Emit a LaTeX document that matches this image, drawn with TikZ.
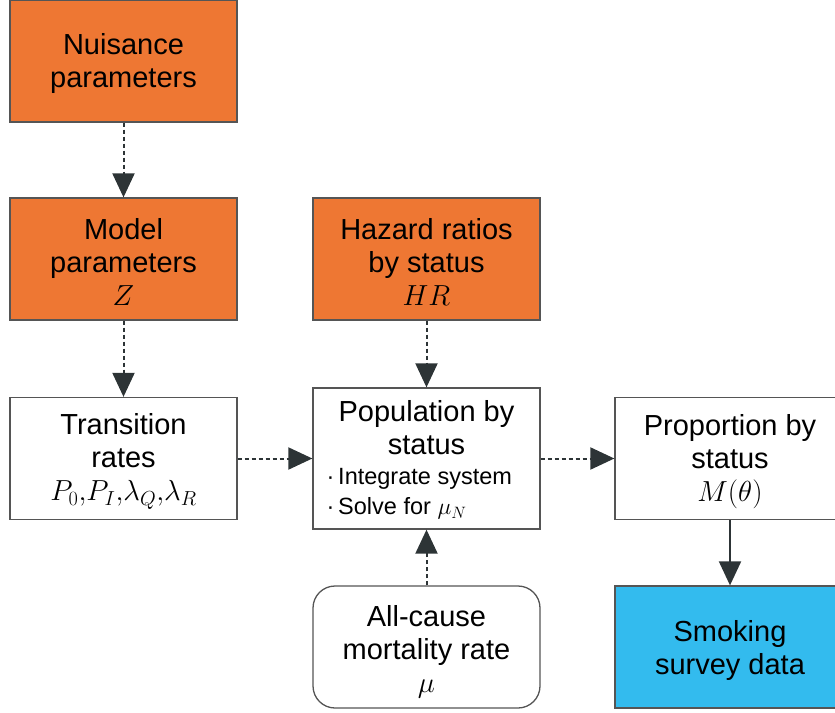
\RequirePackage{fix-cm}
\documentclass[tikz,border=0pt]{standalone}
\usepackage{fontspec}
\setmainfont{Liberation Sans}
\usetikzlibrary{arrows.meta}
\definecolor{orng}{HTML}{EE7733}
\definecolor{skyb}{HTML}{33BBEE}
\definecolor{edgegray}{HTML}{555555}
\definecolor{arrgray}{HTML}{2D3436}
\newcommand\btext[2][3pt]{\raisebox{-#1}[\height][\depth]{\parbox{220pt}{\centering #2}}}
\begin{document}
\begin{tikzpicture}[x=1pt,y=-1pt,
  box/.style={draw=edgegray, line width=1.3pt, minimum width=227pt, minimum height=122pt,
    align=center, inner sep=0pt, font=\fontsize{29}{33}\selectfont},
  orangebox/.style={box, fill=orng},
  whitebox/.style={box, fill=white},
  bluebox/.style={box, fill=skyb},
  dotarrow/.style={draw=arrgray, line width=2pt, dash pattern=on 4pt off 3pt,
    -{Triangle[width=22pt,length=24pt]}},
  solidarrow/.style={draw=arrgray, line width=2pt, -{Triangle[width=22pt,length=24pt]}}
]
\useasboundingbox (0,0) rectangle (835,712);

\node[orangebox] (nuis) at (123.5,61) {\btext{Nuisance\\parameters}};
\node[orangebox] (model) at (123.5,259) {\btext{Model\\parameters\\$Z$}};
\node[orangebox] (hazard) at (426.5,259) {\btext{Hazard ratios\\by status\\$HR$}};
\node[whitebox] (trans) at (123.5,458.5) {\btext{Transition\\rates\\$P_0{,}P_I{,}\lambda_Q{,}\lambda_R$}};
\node[whitebox, minimum height=141pt] (pop) at (426.5,458.5)
  {\raisebox{-1.5pt}[\height][\depth]{\parbox{200pt}{\centering Population by\\status\par
   \raggedright\fontsize{23.5}{30}\selectfont ·\,Integrate system\\·\,Solve for $\mu_N$}}};
\node[whitebox, minimum width=230pt] (prop) at (730,458.5) {\btext{Proportion by\\status\\$M(\theta)$}};
\node[whitebox, rounded corners=22pt] (mort) at (426.5,647) {\btext[5pt]{All-cause\\mortality rate\\$\mu$}};
\node[bluebox, minimum width=230pt] (smoke) at (730,647) {\btext{Smoking\\survey data}};

\draw[dotarrow] (nuis) -- (model);
\draw[dotarrow] (model) -- (trans);
\draw[dotarrow] (hazard) -- (pop);
\draw[dotarrow] (mort) -- (pop);
\draw[dotarrow] (trans) -- (pop);
\draw[dotarrow] (pop) -- (prop);
\draw[solidarrow] (prop) -- (smoke);
\end{tikzpicture}
\end{document}
